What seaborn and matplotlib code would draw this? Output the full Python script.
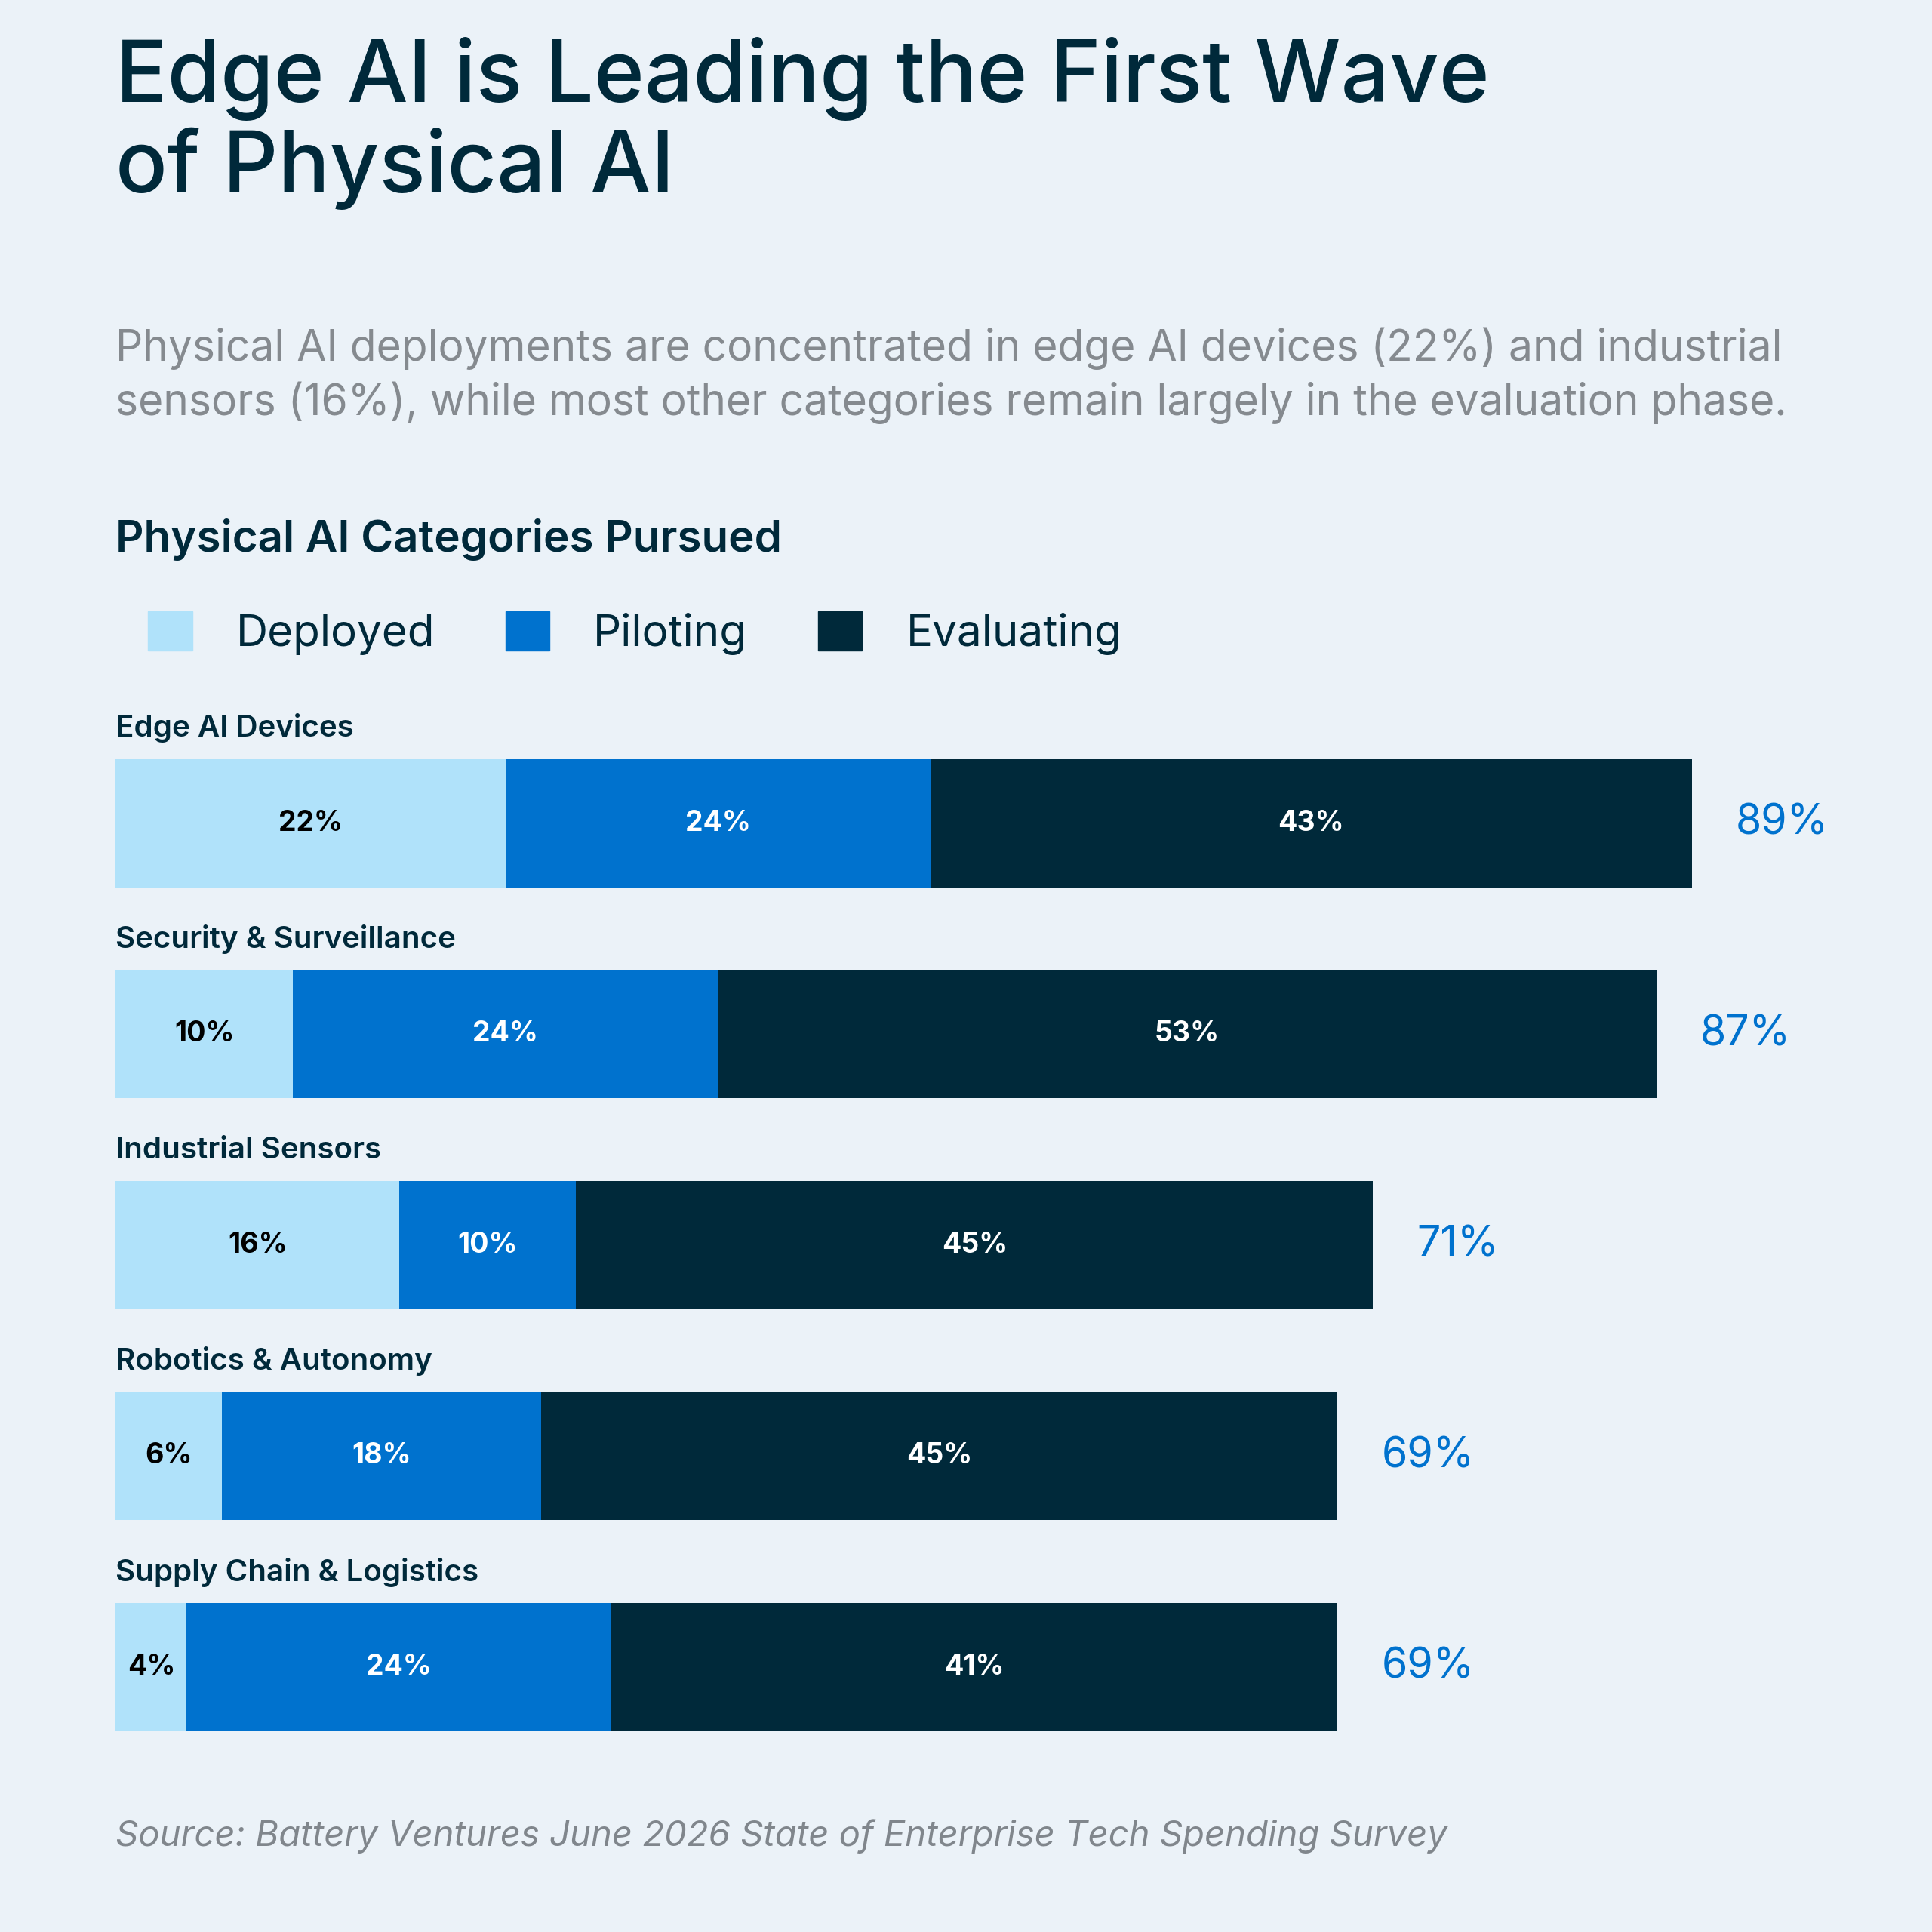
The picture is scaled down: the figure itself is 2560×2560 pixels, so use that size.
import matplotlib
matplotlib.use('Agg')
import matplotlib.pyplot as plt
from matplotlib.patches import Patch
import seaborn as sns
import numpy as np
import pandas as pd

categories = ["Edge AI Devices", "Security & Surveillance", "Industrial Sensors",
              "Robotics & Autonomy", "Supply Chain & Logistics"]
deployed = [22, 10, 16, 6, 4]
piloting = [24, 24, 10, 18, 24]
evaluating = [43, 53, 45, 45, 41]
totals = [89, 87, 71, 69, 69]

BG = "#EBF2F8"
LIGHT = "#B0E2FA"
BLUE = "#0072CE"
DARK = "#00293A"
TXT = "#00293A"

sns.set_style("white")
plt.rcParams['font.family'] = ['Inter', 'DejaVu Sans']

fig = plt.figure(figsize=(25.6, 25.6), dpi=100, facecolor=BG)
S = 1 / 1568
top_px, bot_px = 582.5, 1438.5
ax = fig.add_axes([94 * S, 1 - bot_px * S, 1437 * S, (bot_px - top_px) * S])
ax.set_facecolor(BG)

df = pd.DataFrame({"cat": categories,
                   "d": deployed,
                   "dp": np.array(deployed) + np.array(piloting),
                   "all": np.array(deployed) + np.array(piloting) + np.array(evaluating)})

w = 104 / 171
for col, c in [("all", DARK), ("dp", BLUE), ("d", LIGHT)]:
    sns.barplot(data=df, x=col, y="cat", color=c, width=w, ax=ax, orient="h",
                saturation=1, linewidth=0)

for i in range(len(categories)):
    d, p, e = deployed[i], piloting[i], evaluating[i]
    ax.text(d / 2, i, f"{d}%", ha="center", va="center", fontsize=27,
            fontweight="bold", color="black")
    ax.text(d + p / 2, i, f"{p}%", ha="center", va="center", fontsize=27,
            fontweight="bold", color="white")
    ax.text(d + p + e / 2, i, f"{e}%", ha="center", va="center", fontsize=27,
            fontweight="bold", color="white")
    ax.text(totals[i] + 2.5, i, f"{totals[i]}%", ha="left", va="center",
            fontsize=40, color=BLUE)
    ax.text(0, i - 0.45, categories[i], ha="left", va="center", fontsize=29,
            fontweight="semibold", color=TXT)

ax.set_xlim(0, 100)
ax.set_ylim(len(categories) - 0.5, -0.5)
ax.axis("off")

fig.text(94 * S, 1 - 100 * S, "Edge AI is Leading the First Wave\nof Physical AI",
         fontsize=82, fontweight="medium", color=TXT, va="center", ha="left",
         linespacing=1.1)
fig.text(94 * S, 1 - 305 * S,
         "Physical AI deployments are concentrated in edge AI devices (22%) and industrial\n"
         "sensors (16%), while most other categories remain largely in the evaluation phase.",
         fontsize=41, color="#858A8F", va="center", ha="left", linespacing=1.35)
fig.text(94 * S, 1 - 438 * S, "Physical AI Categories Pursued", fontsize=42,
         fontweight="semibold", color=TXT, va="center", ha="left")

handles = [Patch(color=LIGHT), Patch(color=BLUE), Patch(color=DARK)]
fig.legend(handles, ["Deployed", "Piloting", "Evaluating"], loc="center left",
           bbox_to_anchor=(88 * S, 1 - 514 * S), ncol=3, frameon=False,
           fontsize=42, handlelength=1.0, handleheight=1.0, handletextpad=1.0,
           columnspacing=1.6, labelcolor=TXT)

fig.text(94 * S, 1 - 1490 * S,
         "Source: Battery Ventures June 2026 State of Enterprise Tech Spending Survey",
         fontsize=34, style="italic", color="#80868C", va="center", ha="left")

fig.savefig("out.png", dpi=100, facecolor=BG)
